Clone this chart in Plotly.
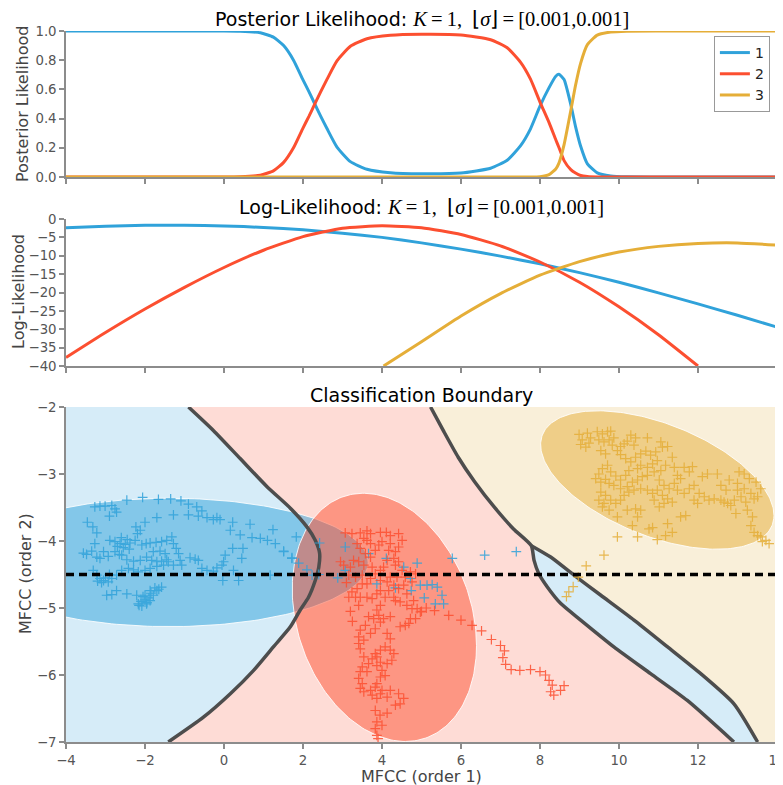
import numpy as np
import plotly.graph_objects as go

BLUE, RED, YEL = '#30a2da', '#fc4f30', '#e5ae38'
BLUE_L, RED_L, YEL_L = '#d6ecf8', '#fedcd6', '#f9efd9'
BND = '#4d4d4d'

X_RANGE = [-4, 14]
Y_RANGE = [-7, -2]
SLICE_Y = -4.5
CLASSES = ['1', '2', '3']

# ---------------- posterior likelihood along the slice ----------------
post_x = [-4, -2, 0, 0.41, 0.92, 1.25, 1.51, 1.76, 2.0, 2.15, 2.29, 2.45, 2.61, 2.86, 3.2, 3.62,
          4.21, 5.0, 6.0, 6.75, 7.17, 7.51, 7.76, 8.0, 8.23, 8.40, 8.48, 8.61, 8.78, 8.90, 9.03,
          9.20, 9.45, 9.79, 10.2, 11, 12, 13, 14]
post_blue = [1, 1, 1.0, 0.998, 0.988, 0.958, 0.90, 0.80, 0.665, 0.585, 0.505, 0.415, 0.33, 0.205,
             0.105, 0.053, 0.029, 0.022, 0.027, 0.06, 0.115, 0.215, 0.33, 0.485, 0.612, 0.69,
             0.703, 0.667, 0.495, 0.345, 0.21, 0.09, 0.028, 0.007, 0.001, 0, 0, 0, 0]
post_red = [0, 0, 0, 0.002, 0.012, 0.042, 0.10, 0.20, 0.335, 0.415, 0.495, 0.585, 0.67, 0.795,
            0.895, 0.947, 0.971, 0.978, 0.973, 0.94, 0.885, 0.785, 0.67, 0.513, 0.372, 0.255,
            0.202, 0.112, 0.05, 0.027, 0.01, 0.003, 0, 0, 0, 0, 0, 0, 0]
post_yel = [0, 0, 0, 0, 0, 0, 0, 0, 0, 0, 0, 0, 0, 0, 0, 0, 0, 0, 0, 0, 0, 0, 0,
            0.002, 0.016, 0.055, 0.095, 0.221, 0.455, 0.628, 0.78, 0.907, 0.972, 0.993, 0.999,
            1, 1, 1, 1]

# ---------------- log-likelihood along the slice ----------------
ll_x = [-4, -3, -2, -1, 0, 1, 2, 3, 4, 5, 6, 7, 8, 9, 10, 11, 12, 13, 14]
ll_blue = [-2.4, -1.95, -1.72, -1.68, -1.88, -2.3, -2.95, -3.85, -5.0, -6.5, -8.2, -10.1, -12.2,
           -14.6, -17.2, -20.1, -23.1, -26.2, -29.4]
ll_red_x = [-4, -3, -2, -1, 0, 1, 2, 3, 4, 5, 6, 7, 8, 9, 10, 11, 12]
ll_red = [-37.7, -30.9, -24.5, -18.6, -13.2, -8.5, -4.8, -2.5, -1.85, -2.4, -4.2, -7.3, -11.7,
          -17.2, -23.9, -31.5, -40]
ll_yel_x = [4.04, 5, 6, 7, 8, 9, 10, 11, 12, 13, 14]
ll_yel = [-40, -33.4, -26.4, -20.3, -15.3, -11.6, -9.0, -7.45, -6.65, -6.5, -7.1]

# ---------------- decision boundaries ----------------
bndA_x = [-0.90, -0.27, 0.41, 1.09, 1.68, 2.10, 2.31, 2.42, 2.40, 2.31, 2.14, 1.93, 1.68, 1.25,
          0.75, 0.16, -0.52, -1.41]
bndA_y = [-2.00, -2.35, -2.77, -3.19, -3.51, -3.79, -3.99, -4.18, -4.39, -4.59, -4.84, -5.03,
          -5.28, -5.58, -5.93, -6.28, -6.63, -7.00]
bndB_x = [5.23, 5.55, 5.93, 6.35, 6.85, 7.33, 7.78]
bndB_y = [-2.00, -2.35, -2.75, -3.12, -3.50, -3.82, -4.07]
slvL_x = [7.78, 7.85, 7.97, 8.19, 8.52, 9.03, 9.87, 10.80, 11.73, 12.91]
slvL_y = [-4.07, -4.29, -4.49, -4.69, -4.93, -5.18, -5.58, -5.98, -6.38, -7.00]
slvR_x = [7.78, 8.27, 8.86, 9.54, 10.38, 11.23, 12.07, 12.91, 13.51]
slvR_y = [-4.07, -4.24, -4.51, -4.81, -5.18, -5.58, -5.98, -6.43, -7.00]

# ---------------- gaussian ellipses (center, [Sxx, Sxy, Syy]) ----------------
ell_center = [(-1.38, -4.32), (4.06, -5.14), (10.97, -3.09)]
ell_shape = [(25.3, 0.0, 0.918), (5.44, -0.985, 3.43), (8.72, -1.558, 1.067)]

# ---------------- observations ----------------
blue_pts_x = [-2.46, -2.06, -1.66, -1.35, -1.09, -0.90, -0.69, -0.56, -0.43, -0.27, -0.18, -0.10, 0.22, 0.66, 1.24, 1.83,
              -3.27, -3.14, -3.01, -2.84, -2.76, -2.72, -2.90, -3.46, -3.32, -3.22, -3.27,
              -2.00, -1.70, -1.28, -0.90, -0.65, 0.16, 0.41, 0.71, 0.92, 1.10, 1.30, 1.51, 1.72, 1.89,
              -2.89, -2.76, -2.63, -2.50, -2.38, -2.25, -2.19, -2.23, -2.12, -2.08, -1.97, -1.87, -1.72, -1.58,
              -1.45, -1.32, -1.28, -1.21, -1.15, -1.11, -1.07,
              -3.56, -3.48, -3.35, -3.22, -3.14, -3.05, -2.93, -2.76, -2.59, -2.46, -2.29, -2.12,
              -3.31, -3.22, -3.14, -3.05, -2.93, -2.84, -2.72, -2.59, -2.42, -2.29, -2.17, -2.00, -1.87,
              -1.70, -1.53, -1.41, -1.28,
              -1.96, -1.83, -1.70, -1.58, -1.45, -1.49, -1.62, -1.79,
              -2.97, -2.84, -2.72, -2.46, -2.21, -2.17, -2.08, -1.96, -1.87, -1.79, -1.70, -1.58, -1.87, -2.00,
              -2.10, -2.00, -1.90, -1.85, -2.05, -1.75, -1.65, -2.15, -1.95,
              -2.60, -2.45, -2.70, -2.55, -2.40, -2.65, -3.20, -3.10, -3.00, -2.90,
              -0.86, -0.73, -0.65, -0.56, -0.43, -0.27, -0.18, -0.05, -0.01, 0.03, 0.22, 0.24, 0.45, 0.48,
              -0.03, 0.37, 1.17, 2.10,
              1.51, 1.72, 2.23, 2.42, 2.40, 2.88, 3.07, 3.07, 3.66, 3.87, 4.11, 4.34, 4.55, 4.72, 4.74,
              4.89, 4.97, 5.14, 5.27, 5.40, 5.52, 5.07, 5.35, 5.56, 5.78, 6.60, 7.40]
blue_pts_y = [-3.39, -3.35, -3.38, -3.37, -3.40, -3.45, -3.49, -3.55, -3.65, -3.68, -3.65, -3.68, -3.72, -3.75, -3.83, -3.94,
              -3.49, -3.48, -3.48, -3.47, -3.52, -3.57, -3.63, -3.72, -3.79, -3.88, -4.04,
              -3.72, -3.65, -3.61, -3.61, -3.63, -3.84, -3.91, -3.95, -3.96, -3.99, -4.04, -4.15, -4.25, -4.33,
              -3.99, -4.01, -4.04, -4.05, -4.03, -3.99, -3.89, -3.79, -3.84, -4.06, -4.04, -4.03, -4.02, -4.01,
              -3.99, -3.94, -4.04, -4.11, -4.19, -4.29, -4.36,
              -4.18, -4.20, -4.15, -4.24, -4.26, -4.16, -4.23, -4.16, -4.21, -4.28, -4.30, -4.29,
              -4.44, -4.51, -4.56, -4.59, -4.61, -4.56, -4.51, -4.44, -4.41, -4.43, -4.46, -4.44, -4.41,
              -4.38, -4.36, -4.31, -4.36,
              -4.24, -4.29, -4.31, -4.30, -4.28, -4.19, -4.15, -4.16,
              -4.81, -4.80, -4.74, -4.79, -4.81, -4.94, -4.97, -4.94, -4.89, -4.81, -4.74, -4.69, -4.74, -4.81,
              -4.90, -4.88, -4.85, -4.78, -4.83, -4.70, -4.72, -4.96, -4.92,
              -3.95, -3.98, -4.08, -4.10, -4.12, -4.20, -4.60, -4.62, -4.55, -4.50,
              -4.25, -4.27, -4.29, -4.41, -4.44, -4.45, -4.40, -4.36, -4.31, -4.21, -4.11, -4.44, -4.26, -4.11,
              -4.59, -4.59, -4.51, -4.43,
              -4.16, -4.26, -4.51, -4.03, -4.50, -4.55, -4.09, -4.44, -4.19, -4.64, -4.26, -4.70, -4.39, -4.56, -4.74,
              -4.33, -4.66, -4.66, -4.65, -4.69, -4.81, -4.85, -4.94, -4.94, -4.26, -4.21, -4.16]

red_pts_x = [3.07, 3.24, 3.45, 3.62, 3.71, 3.96, 4.11, 4.21, 4.42, 4.51, 4.42, 4.34, 4.21, 4.17, 4.00, 3.92,
             3.83, 3.71, 3.62, 3.54, 3.37, 3.45, 3.71, 3.58, 3.28, 3.41, 2.95, 3.03, 3.20, 3.16, 3.33, 3.50,
             3.54, 3.75, 3.96, 4.04, 4.13, 4.30, 4.34, 4.42, 4.51, 4.38, 4.21, 4.13, 3.96, 3.83, 3.71, 3.62,
             3.50, 3.37, 3.24, 3.16, 3.33, 3.41, 3.45, 3.62, 3.75, 3.87, 3.96, 4.08, 4.17, 4.30, 4.42, 4.55,
             4.59, 4.72, 4.85, 4.76, 4.63, 4.80, 4.89, 4.97, 4.76, 4.63, 4.46, 4.34, 4.30, 3.96, 3.87, 3.92,
             3.79, 3.66, 3.58, 3.45, 3.41, 3.54, 3.71, 3.83, 3.96, 4.04, 4.21, 4.46, 4.59, 4.68, 4.72, 4.85,
             4.13, 4.21, 4.08, 3.96, 3.83, 3.75, 3.87, 3.96, 4.21, 4.30, 4.25, 4.13, 4.00, 3.87, 3.66, 3.54,
             3.45, 3.41, 3.50, 3.62, 3.45, 3.41, 3.50, 3.45, 3.54, 3.71, 3.83, 3.75, 3.87, 3.96, 4.00, 4.21,
             4.42, 4.55, 4.46, 4.34, 4.13, 3.87, 3.96, 4.08,
             3.10, 3.20, 3.25, 3.83, 3.87, 3.83, 3.87, 3.90, 4.13, 3.95, 4.00,
             5.00, 5.12, 5.33, 5.69, 6.00, 6.28, 6.52, 6.77, 7.00, 7.10, 7.06, 7.13, 7.27, 7.49, 7.76, 8.00,
             8.14, 8.23, 8.31, 8.61, 8.52, 8.27, 8.35]
red_pts_y = [-3.88, -3.89, -3.88, -3.85, -3.89, -3.87, -3.87, -3.92, -3.89, -3.99, -4.09, -4.16, -4.04, -4.14, -4.01, -4.06,
             -4.14, -4.04, -3.99, -3.96, -4.04, -4.11, -4.24, -4.19, -4.29, -4.31, -4.31, -4.36, -4.39, -4.51, -4.54, -4.51,
             -4.36, -4.39, -4.44, -4.39, -4.29, -4.26, -4.36, -4.31, -4.44, -4.54, -4.54, -4.61, -4.59, -4.49, -4.56, -4.64,
             -4.64, -4.71, -4.76, -4.84, -4.84, -4.96, -4.84, -4.84, -4.86, -4.79, -4.74, -4.84, -4.74, -4.66, -4.71, -4.66,
             -4.54, -4.46, -4.49, -4.61, -4.79, -4.89, -5.01, -5.06, -5.01, -4.96, -4.91, -4.89, -4.84, -4.96, -5.03, -5.11,
             -5.16, -5.13, -5.26, -5.33, -5.43, -5.48, -5.38, -5.31, -5.21, -5.16, -5.13, -5.28, -5.26, -5.23, -5.16, -5.16,
             -5.38, -5.46, -5.58, -5.63, -5.68, -5.76, -5.73, -5.81, -5.63, -5.68, -5.78, -5.83, -5.93, -5.86, -5.83, -5.73,
             -5.61, -5.53, -5.88, -5.95, -5.95, -6.05, -6.13, -6.20, -6.25, -6.23, -6.18, -6.30, -6.35, -6.28, -6.23, -6.23,
             -6.28, -6.35, -6.43, -6.45, -6.33, -6.13, -6.03, -6.01,
             -4.62, -5.05, -5.20, -6.53, -6.70, -6.80, -6.90, -6.95, -6.57, -6.60, -6.75,
             -5.05, -5.00, -5.04, -5.11, -5.18, -5.26, -5.34, -5.47, -5.56, -5.64, -5.74, -5.84, -5.92, -5.93, -5.92, -5.95,
             -6.00, -6.08, -6.15, -6.16, -6.23, -6.25, -6.30]

yel_pts_x = [8.99, 9.07, 9.20, 9.28, 9.03, 9.16, 9.24, 9.45, 9.58, 9.71, 9.79, 9.49, 9.62, 9.75, 9.87, 9.83,
             9.54, 9.66, 9.96, 10.04, 10.13, 10.21, 10.30, 10.42, 10.38, 10.04, 10.17, 10.30, 10.42, 10.55,
             10.68, 10.72, 10.80, 10.93, 11.06, 11.10, 11.23, 10.97, 10.85, 10.72, 10.55, 10.47, 10.25, 10.17,
             10.04, 9.92, 9.79, 9.71, 9.58, 9.49, 9.41, 9.54, 9.66, 9.75, 9.87, 10.04, 10.21, 10.34, 10.47,
             10.59, 10.72, 10.89, 11.06, 11.18, 11.35, 11.40, 11.48, 11.65, 11.78, 11.86, 11.56, 11.40, 11.27,
             11.14, 11.02, 10.97, 11.10, 11.23, 11.35, 11.14, 11.02, 10.89, 10.85, 10.72, 10.55, 10.38, 10.25,
             10.13, 10.04, 9.92, 9.79, 9.66, 9.54, 9.49, 9.62, 9.75, 9.58, 9.96, 10.21, 10.42, 10.55, 10.34,
             10.47, 10.76, 10.85, 11.23, 11.35, 11.18, 10.97, 10.47, 9.96, 11.48, 11.65, 11.78, 11.90, 12.03,
             12.16, 12.11, 12.24, 12.49, 12.58, 12.71, 12.58, 12.75, 12.92, 13.09, 13.21, 13.34, 13.42, 13.51,
             13.59, 13.47, 13.30, 13.04, 13.17, 13.00, 13.00, 13.17, 12.79, 12.41, 12.28, 12.96, 13.25, 13.38,
             13.34, 13.42, 13.51, 13.59, 13.72, 13.80, 13.63, 12.66, 12.83, 11.69, 11.56, 11.90, 11.99,
             9.62, 9.17, 8.97, 8.84, 8.73, 8.67]
yel_pts_y = [-2.41, -2.49, -2.39, -2.46, -2.56, -2.60, -2.54, -2.37, -2.40, -2.37, -2.36, -2.49, -2.52, -2.49, -2.46, -2.57,
             -2.65, -2.70, -2.65, -2.59, -2.55, -2.51, -2.42, -2.46, -2.57, -2.71, -2.77, -2.82, -2.75, -2.70,
             -2.66, -2.46, -2.72, -2.67, -2.52, -2.60, -2.59, -2.80, -2.85, -2.90, -2.87, -2.92, -2.95, -3.02,
             -3.09, -3.03, -2.97, -2.87, -2.92, -3.00, -3.07, -3.12, -3.08, -3.14, -3.17, -3.22, -3.19, -3.12, -3.09,
             -3.04, -3.02, -2.97, -2.95, -2.87, -2.75, -2.90, -3.02, -2.90, -2.97, -2.89, -3.07, -3.14, -3.22,
             -3.17, -3.09, -3.24, -3.32, -3.37, -3.42, -3.44, -3.49, -3.39, -3.29, -3.24, -3.22, -3.24, -3.27,
             -3.32, -3.39, -3.44, -3.39, -3.32, -3.27, -3.39, -3.44, -3.54, -3.49, -3.64, -3.54, -3.52, -3.54, -3.77,
             -3.64, -3.82, -3.80, -3.74, -3.87, -3.92, -3.98, -3.94, -3.94, -3.24, -3.29, -3.22, -3.17, -3.29,
             -3.34, -3.04, -3.00, -3.00, -3.17, -3.24, -3.39, -3.44, -3.39, -3.34, -3.42, -3.29, -3.37, -3.34,
             -3.22, -3.12, -3.07, -2.97, -3.00, -3.14, -3.24, -3.22, -3.09, -3.37, -3.39, -3.59, -3.54, -3.64,
             -3.77, -3.87, -3.92, -3.94, -3.99, -4.04, -4.01, -3.42, -3.47, -3.62, -3.64, -3.39, -3.44,
             -4.21, -4.37, -4.54, -4.68, -4.76, -4.83]

# ======================================================================
fig = go.Figure()


def line(x, y, color, xa, ya, name=None, show=False):
    fig.add_trace(go.Scatter(x=x, y=y, mode='lines', name=name, showlegend=show,
                             line=dict(color=color, width=3, shape='spline', smoothing=0.5),
                             xaxis=xa, yaxis=ya, hoverinfo='skip'))


line(post_x, post_blue, BLUE, 'x', 'y', CLASSES[0], True)
line(post_x, post_red, RED, 'x', 'y', CLASSES[1], True)
line(post_x, post_yel, YEL, 'x', 'y', CLASSES[2], True)

line(ll_x, ll_blue, BLUE, 'x2', 'y2')
line(ll_red_x, ll_red, RED, 'x2', 'y2')
line(ll_yel_x, ll_yel, YEL, 'x2', 'y2')

# classification regions
x0, x1 = X_RANGE
y0, y1 = Y_RANGE
regions = [
    ([x0] + bndA_x + [x0], [y1] + bndA_y + [y0], BLUE_L),
    (bndA_x + slvL_x[::-1] + bndB_x[::-1], bndA_y + slvL_y[::-1] + bndB_y[::-1], RED_L),
    (bndB_x + slvR_x[1:] + [x1, x1], bndB_y + slvR_y[1:] + [y0, y1], YEL_L),
    (slvL_x + slvR_x[::-1], slvL_y + slvR_y[::-1], BLUE_L),
]
for rx, ry, col in regions:
    fig.add_trace(go.Scatter(x=rx, y=ry, mode='lines', fill='toself', fillcolor=col,
                             line=dict(width=0, color=col), showlegend=False,
                             xaxis='x3', yaxis='y3', hoverinfo='skip'))

# ellipses
t = np.linspace(0, 2 * np.pi, 240)
for (cx, cy), (sxx, sxy, syy), col in zip(ell_center, ell_shape, [BLUE, RED, YEL]):
    L = np.linalg.cholesky(np.array([[sxx, sxy], [sxy, syy]]))
    pts = L @ np.vstack([np.cos(t), np.sin(t)])
    r, g, b = int(col[1:3], 16), int(col[3:5], 16), int(col[5:7], 16)
    fig.add_trace(go.Scatter(x=cx + pts[0], y=cy + pts[1], mode='lines', fill='toself',
                             fillcolor=f'rgba({r},{g},{b},0.5)',
                             line=dict(color='rgba(255,255,255,0.85)', width=1),
                             showlegend=False, xaxis='x3', yaxis='y3', hoverinfo='skip'))

# boundary lines
for bx, by in [(bndA_x, bndA_y), (bndB_x + slvL_x[1:], bndB_y + slvL_y[1:]), (slvR_x, slvR_y)]:
    fig.add_trace(go.Scatter(x=bx, y=by, mode='lines',
                             line=dict(color=BND, width=3.5, shape='spline', smoothing=0.6),
                             showlegend=False, xaxis='x3', yaxis='y3', hoverinfo='skip'))

# observations
for px, py, col in [(blue_pts_x, blue_pts_y, BLUE), (red_pts_x, red_pts_y, RED), (yel_pts_x, yel_pts_y, YEL)]:
    fig.add_trace(go.Scatter(x=px, y=py, mode='markers', showlegend=False,
                             marker=dict(symbol='cross-thin', size=7, line=dict(color=col, width=1.2)),
                             opacity=0.85, xaxis='x3', yaxis='y3', hoverinfo='skip'))

# slice line
fig.add_trace(go.Scatter(x=X_RANGE, y=[SLICE_Y, SLICE_Y], mode='lines',
                         line=dict(color='black', width=3.5, dash='8px,5px'),
                         showlegend=False, xaxis='x3', yaxis='y3', hoverinfo='skip'))

AX = dict(showline=True, linecolor='#8c8c8c', linewidth=1.5, ticks='outside', ticklen=5,
          tickcolor='#8c8c8c', tickwidth=1.5, showgrid=False, zeroline=False, automargin=False,
          ticklabeloverflow='allow',
          tickfont=dict(family='DejaVu Sans', size=13.3, color='#555555'))
xt = list(range(-4, 15, 2))
XR = [X_RANGE[0], X_RANGE[1] + 0.0005]
# the page body has an 8px margin, so the figure is drawn 8px smaller on each offset side
FIG_W, FIG_H = 775, 777
M_L, M_R, M_T, M_B = 58, 6, 23, 43
H_PLOT = FIG_H - M_T - M_B


def ypaper(px):
    # page-pixel row -> paper fraction
    return (FIG_H + 8 - M_B - px) / H_PLOT


fig.update_layout(
    width=FIG_W, height=FIG_H, margin=dict(l=M_L, r=M_R, t=M_T, b=M_B, autoexpand=False),
    plot_bgcolor='white', paper_bgcolor='white',
    font=dict(family='DejaVu Sans', color='#333333'),
    xaxis=dict(AX, domain=[0, 1], anchor='y', range=XR, tickvals=xt, showticklabels=False),
    yaxis=dict(AX, domain=[0.7947, 1], anchor='x', range=[0, 1.0], tickvals=[0, 0.2, 0.4, 0.6, 0.8, 1.0],
               tickformat='.1f'),
    xaxis2=dict(AX, domain=[0, 1], anchor='y2', range=XR, tickvals=xt, showticklabels=False),
    yaxis2=dict(AX, domain=[0.5288, 0.7356], anchor='x2', range=[-40, 0], tickvals=list(range(-40, 1, 5))),
    xaxis3=dict(AX, domain=[0, 1], anchor='y3', range=XR, tickvals=xt),
    yaxis3=dict(AX, domain=[0, 0.4712], anchor='x3', range=Y_RANGE, tickvals=list(range(-7, -1))),
    legend=dict(x=0.99, xanchor='right', y=0.993, yanchor='top', bgcolor='white',
                bordercolor='#999999', borderwidth=1, font=dict(size=14, color='#222222'),
                itemwidth=30, tracegroupgap=0),
    showlegend=True,
)

MATH = ("<span style=\"font-family:'Liberation Serif';font-size:20.5px\"><i>K</i>\u2009=\u20091,  "
        "\u230a<i>\u03c3</i>\u230b\u2009=\u2009[0.001,0.001]</span>")
titles = [("Posterior Likelihood: " + MATH, 19), ("Log-Likelihood: " + MATH, 207),
          ("Classification Boundary", 395)]
for txt, ypx in titles:
    fig.add_annotation(text=txt, xref='paper', yref='paper', x=0.5, y=ypaper(ypx),
                       xanchor='center', yanchor='middle', showarrow=False,
                       font=dict(family='DejaVu Sans', size=19, color='black'))

ylabels = [("Posterior Likelihood", 104, -44), ("Log-Likelihood", 292, -47), ("MFCC (order 2)", 574, -41)]
for txt, ypx, xs in ylabels:
    fig.add_annotation(text=txt, xref='paper', yref='paper', x=0, y=ypaper(ypx), xshift=xs,
                       xanchor='center', yanchor='middle', textangle=-90, showarrow=False,
                       font=dict(family='DejaVu Sans', size=16, color='#444444'))
fig.add_annotation(text="MFCC (order 1)", xref='paper', yref='paper', x=0.5, y=ypaper(776),
                   xanchor='center', yanchor='middle', showarrow=False,
                   font=dict(family='DejaVu Sans', size=16, color='#444444'))

fig.write_html("out.html")
